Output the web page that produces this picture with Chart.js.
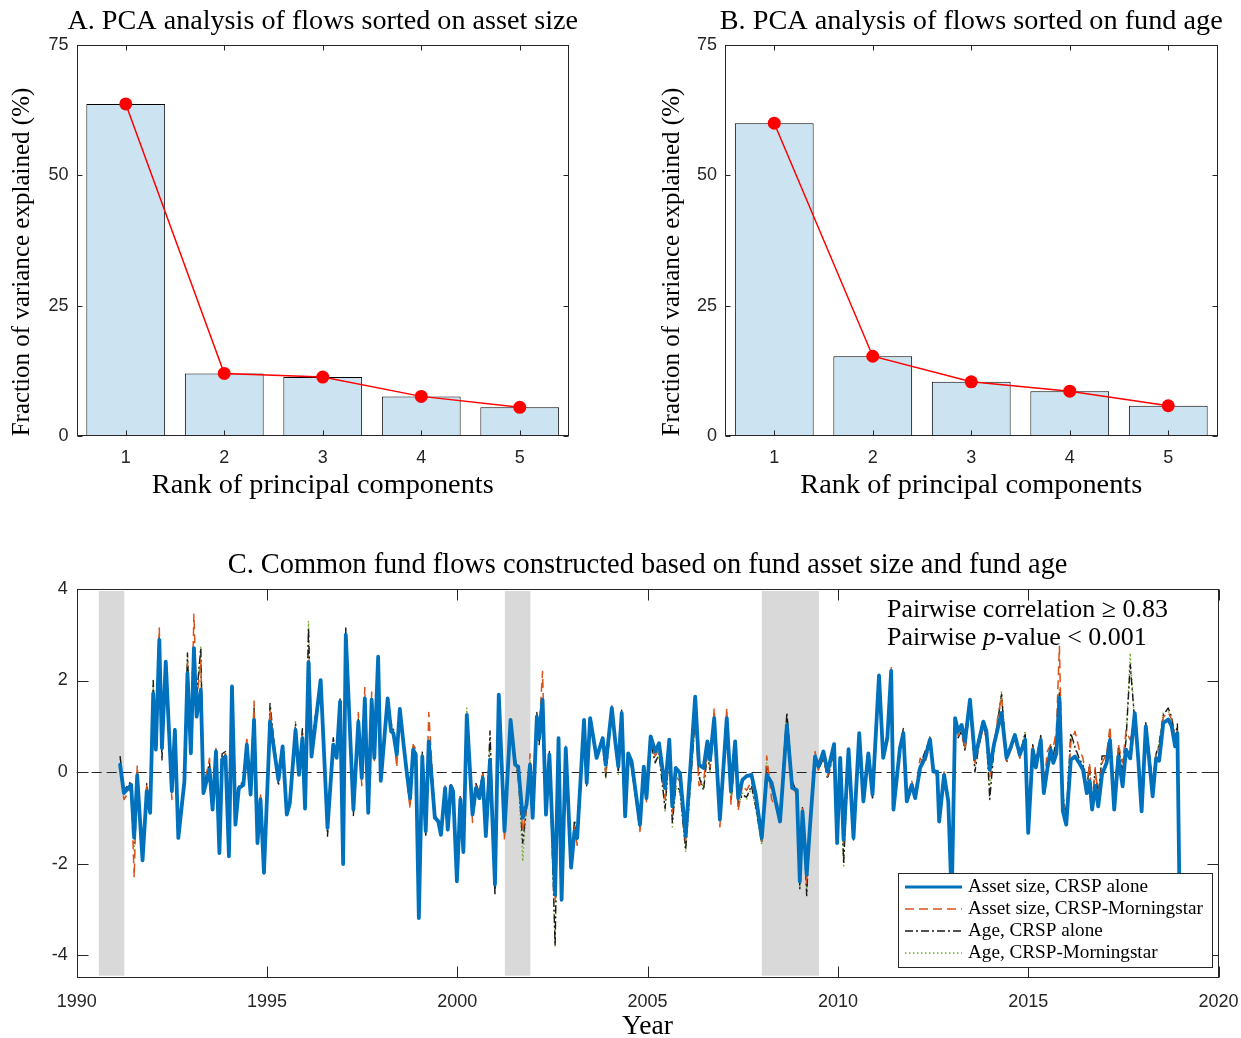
<!DOCTYPE html>
<html><head><meta charset="utf-8">
<script src="https://cdn.jsdelivr.net/npm/chart.js@4.4.1/dist/chart.umd.min.js"></script>
<style>
html,body{margin:0;padding:0;background:#fff;}
#wrap{position:relative;width:1241px;height:1038px;overflow:hidden;}
canvas{position:absolute;}
</style></head><body><div id="wrap">
<canvas id="cA" width="620" height="520" style="left:0;top:0"></canvas>
<canvas id="cB" width="621" height="520" style="left:620px;top:0"></canvas>
<canvas id="cC" width="1241" height="498" style="left:0;top:540px"></canvas>
</div>
<script>
// ---------------- data ----------------
const rankLabels = [1, 2, 3, 4, 5];
const pcaAssetSize = [63.7, 12.0, 11.3, 7.6, 5.5];
const pcaFundAge = [60.0, 15.3, 10.4, 8.6, 5.8];
const pcaYTicks = [0, 25, 50, 75];
const yearTicks = [1990, 1995, 2000, 2005, 2010, 2015, 2020];
const flowYTicks = [-4, -2, 0, 2, 4];
const recessionStart = [1990.58, 2001.25, 2008.0];
const recessionEnd = [1991.25, 2001.92, 2009.5];

const flowDates = [
1991.14,1991.24,1991.43,1991.51,1991.59,1991.73,1991.84,1991.93,1992.01,1992.08,1992.17,1992.24,1992.34,1992.50,1992.58,1992.67,1992.83,1992.91,
1993.00,1993.08,1993.15,1993.26,1993.33,1993.49,1993.57,1993.66,1993.75,1993.82,1993.91,1994.00,1994.08,1994.17,1994.26,1994.38,1994.47,1994.57,1994.66,1994.75,1994.83,1994.92,
1995.08,1995.30,1995.41,1995.52,1995.60,1995.75,1995.84,1995.93,1996.00,1996.09,1996.17,1996.41,1996.59,1996.74,1996.83,1996.92,
1997.00,1997.07,1997.27,1997.40,1997.49,1997.57,1997.66,1997.75,1997.82,1997.92,1997.99,1998.17,1998.26,1998.32,1998.41,1998.49,1998.58,1998.67,1998.76,1998.84,1998.91,
1998.99,1999.08,1999.17,1999.25,1999.41,1999.50,1999.57,1999.68,1999.75,1999.83,1999.89,1999.99,2000.08,2000.16,2000.25,2000.40,2000.49,2000.58,2000.67,2000.75,2000.86,
2000.99,2001.09,2001.24,2001.40,2001.52,2001.60,2001.72,2001.82,2001.91,2001.98,2002.09,2002.15,2002.24,2002.33,2002.42,2002.57,2002.66,2002.74,2002.85,2002.99,
2003.08,2003.15,2003.33,2003.40,2003.49,2003.66,2003.82,2003.90,2004.06,2004.15,2004.23,2004.32,2004.41,2004.49,2004.58,2004.80,2004.90,2004.97,
2005.08,2005.20,2005.30,2005.46,2005.57,2005.65,2005.74,2005.85,2006.00,2006.25,2006.35,2006.47,2006.57,2006.64,2006.75,2006.90,
2007.08,2007.19,2007.30,2007.38,2007.49,2007.60,2007.73,2007.84,2008.00,2008.13,2008.26,2008.48,2008.66,2008.80,2008.92,
2009.00,2009.07,2009.18,2009.27,2009.40,2009.49,2009.62,2009.73,2009.90,2009.98,2010.06,2010.15,2010.28,2010.41,2010.56,2010.67,2010.80,2010.91,
2011.08,2011.19,2011.30,2011.40,2011.46,2011.63,2011.72,2011.81,2011.94,2012.03,2012.16,2012.29,2012.42,2012.51,2012.61,2012.66,2012.79,2012.90,
2012.99,2013.08,2013.16,2013.25,2013.34,2013.47,2013.60,2013.70,2013.82,2013.90,2013.99,2014.10,2014.20,2014.30,2014.43,2014.53,2014.65,2014.78,2014.92,
2015.00,2015.12,2015.20,2015.33,2015.41,2015.50,2015.59,2015.66,2015.74,2015.82,2015.91,2016.00,2016.12,2016.23,2016.34,2016.44,2016.54,2016.61,2016.68,2016.76,2016.84,2016.94,
2017.06,2017.15,2017.26,2017.37,2017.48,2017.57,2017.68,2017.80,2017.89,2017.98,2018.09,2018.17,2018.27,2018.36,2018.44,2018.55,2018.68,2018.77,2018.86,2018.92,2018.98
];

const assetSizeCrsp = [
0.16,-0.46,-0.28,-1.44,-0.07,-1.93,-0.42,-0.89,1.72,0.49,2.89,0.52,2.41,-0.42,0.92,-1.44,-0.20,2.16,
0.41,2.71,1.21,1.80,-0.46,0.05,-0.82,0.45,-1.77,0.27,0.34,-1.84,1.87,-1.15,-0.35,-0.28,0.60,-0.49,1.14,-1.55,-0.60,-2.20,
1.10,-0.17,0.56,-0.93,-0.68,0.92,-0.06,0.74,-0.80,2.40,0.34,2.01,-1.22,0.60,0.31,1.54,
-2.01,3.00,-0.82,1.10,-0.13,1.61,-0.89,1.58,0.31,2.52,-0.19,1.61,0.89,0.85,0.38,1.38,0.67,0.01,-0.57,0.49,0.38,
-3.19,0.34,-1.29,0.67,-1.00,-1.08,-1.37,-0.35,-1.26,-0.31,-0.42,-2.39,-0.60,-1.75,1.25,-0.93,-0.35,-0.57,-0.13,-1.40,0.27,
-2.46,1.69,-1.29,1.14,0.16,0.12,-1.00,-0.71,0.16,-1.00,1.21,0.74,1.58,-0.93,0.38,-2.68,0.74,-2.79,0.52,-2.09,
-1.29,-1.44,1.14,-0.24,1.18,0.31,0.74,0.16,1.40,0.67,0.12,1.29,-0.97,0.41,0.23,-1.15,0.12,-0.57,
0.78,0.45,0.63,-0.35,0.71,-0.75,0.09,-0.02,-1.40,1.65,0.16,0.09,0.67,0.27,1.18,-1.04,
1.18,-0.42,0.67,-0.57,-0.17,-0.09,-0.06,-0.49,-1.44,-0.06,-0.24,-1.08,1.03,-0.35,-0.39,
-2.39,-0.86,-2.24,-1.15,0.34,0.12,0.45,0.01,0.61,-1.55,0.31,-1.48,0.50,-1.44,0.85,-0.64,0.41,-0.49,
2.11,0.31,0.75,2.21,-0.82,0.52,0.85,-0.64,-0.28,-0.57,0.09,0.31,0.71,0.01,0.01,-1.08,-0.06,-0.64,
-2.80,1.18,0.89,1.03,0.67,1.58,0.31,0.67,1.10,0.90,0.05,0.60,0.95,1.29,0.31,0.52,0.81,0.38,0.71,
-1.33,0.49,0.10,0.70,-0.46,0.05,0.49,0.20,0.40,1.62,-0.85,-1.15,0.27,0.34,0.20,0.05,-0.46,-0.20,-0.82,-0.30,-0.75,-0.05,
0.20,0.70,-0.82,0.34,-0.31,0.49,0.30,1.29,0.30,-0.86,1.00,0.34,-0.53,0.30,0.25,1.07,1.15,1.00,0.56,0.85,-3.00
];

const assetSizeCrspMs = [
0.10,-0.60,-0.35,-2.30,0.15,-1.85,-0.30,-0.80,1.65,0.55,3.15,0.60,2.30,-0.60,0.85,-1.30,-0.35,2.40,
0.60,3.45,1.50,2.45,-0.35,0.30,-0.70,0.55,-1.70,0.35,0.40,-1.75,1.75,-1.05,-0.40,-0.20,0.75,-0.45,1.55,-1.50,-0.50,-2.10,
1.35,-0.10,0.50,-0.85,-0.60,0.95,0.05,0.80,-0.70,2.50,0.60,1.90,-1.10,0.50,0.40,1.45,
-1.95,2.95,-0.75,1.30,-0.30,1.85,-0.80,1.75,0.25,2.45,-0.10,1.50,0.95,0.90,0.10,1.30,0.75,-0.15,-0.80,0.60,0.50,
-3.10,0.40,-1.20,1.30,-0.90,-1.00,-1.30,-0.30,-1.15,-0.25,-0.35,-2.30,-0.55,-1.60,1.20,-1.10,-0.30,-0.50,-0.05,-1.30,0.35,
-2.35,1.60,-1.50,1.05,0.25,0.00,-1.30,-0.80,0.40,-0.90,1.15,0.90,2.20,-0.80,0.30,-2.80,0.60,-2.70,0.60,-1.90,
-1.20,-1.60,1.05,-0.10,1.10,0.40,0.65,0.00,1.45,0.60,0.20,1.20,-0.85,0.30,0.10,-1.30,0.00,-0.65,
0.70,0.35,0.50,-0.60,0.60,-0.90,-0.10,-0.20,-1.55,1.30,-0.30,-0.20,0.50,0.10,1.40,-1.20,
1.40,-0.70,0.50,-0.85,-0.30,-0.40,-0.20,-0.60,-1.50,0.35,-0.60,-0.95,0.90,-0.30,-0.50,
-2.30,-0.80,-2.45,-1.00,0.45,0.05,0.35,-0.10,0.50,-1.30,0.20,-1.55,0.40,-1.30,0.75,-0.55,0.30,-0.40,
2.00,0.40,0.65,2.30,-0.70,0.45,0.75,-0.55,-0.20,-0.45,0.30,0.20,0.60,0.05,-0.10,-0.95,0.00,-0.60,
-2.60,1.00,0.80,0.85,0.50,1.45,0.20,0.60,0.95,0.75,-0.10,0.55,1.20,1.65,0.25,0.45,0.70,0.30,0.65,
-1.20,0.55,0.30,0.75,-0.35,0.45,0.60,0.55,0.90,2.75,-0.60,-0.95,0.65,0.89,0.50,0.30,-0.30,0.20,-0.70,0.10,-0.55,0.20,
0.40,1.00,-0.60,0.60,0.20,0.90,0.70,1.20,0.50,-0.70,1.05,0.50,-0.30,0.45,0.50,1.20,1.30,1.15,0.70,0.95,-2.80
];

const ageCrsp = [
0.35,-0.40,-0.20,-1.55,0.00,-1.80,-0.25,-0.75,2.00,0.70,2.95,0.25,2.25,-0.25,0.95,-1.35,-0.10,2.60,
0.55,2.65,1.65,2.70,-0.30,0.20,-0.75,0.50,-1.80,0.40,0.45,-1.80,1.80,-1.10,-0.30,-0.20,0.70,-0.40,1.40,-1.55,-0.55,-2.15,
1.50,-0.30,0.45,-0.80,-0.55,1.05,0.00,0.95,-0.65,3.15,0.70,1.95,-1.40,0.75,0.30,1.60,
-2.00,3.15,-0.95,1.15,-0.10,1.55,-0.85,1.50,0.35,2.45,-0.20,1.55,1.00,0.95,0.30,1.40,0.70,0.05,-0.70,0.55,0.45,
-3.05,0.45,-1.40,0.60,-0.95,-1.05,-1.30,-0.40,-1.20,-0.25,-0.50,-2.30,-0.50,-1.65,1.10,-0.80,-0.25,-0.45,0.00,-1.35,0.90,
-2.70,1.55,-1.20,1.00,0.30,-0.10,-1.55,-0.75,0.20,-0.95,1.30,0.60,1.45,-0.85,0.45,-3.80,0.70,-2.75,0.45,-2.00,
-1.05,-1.40,1.10,-0.30,1.15,0.35,0.80,-0.10,1.30,0.75,0.00,1.35,-0.90,0.35,0.05,-1.20,-0.05,-0.60,
0.65,0.20,0.40,-0.80,0.50,-1.10,-0.30,-0.40,-1.70,1.20,-0.10,-0.40,0.40,0.05,1.10,-0.95,
1.00,-0.60,0.40,-0.70,-0.50,-0.55,-0.30,-0.75,-1.55,0.10,-0.30,-0.90,1.30,-0.20,-0.45,
-2.55,-0.75,-2.70,-1.05,0.30,0.05,0.30,-0.15,0.45,-1.20,0.25,-2.00,0.35,-1.50,0.80,-0.70,0.35,-0.60,
2.05,0.35,0.85,2.15,-0.75,0.60,0.95,-0.50,-0.35,-0.50,0.15,0.45,0.75,0.10,-0.05,-1.00,-0.10,-0.70,
-2.70,1.05,0.75,0.90,0.45,1.50,0.00,0.55,1.00,0.80,-0.60,0.50,1.10,1.70,0.20,0.50,0.75,0.35,0.85,
-1.25,0.60,0.20,0.80,-0.40,0.20,0.55,0.35,0.75,1.75,-0.50,-0.95,0.85,0.55,0.30,0.15,-0.35,0.15,-0.65,0.05,-0.50,0.35,
0.35,0.80,-0.55,0.55,0.00,0.70,2.35,1.10,0.45,-0.60,1.10,0.45,-0.25,0.40,0.60,1.25,1.40,1.20,0.75,1.05,-2.85
];

const ageCrspMs = [
0.30,-0.45,-0.25,-1.75,-0.05,-1.85,-0.30,-0.80,1.95,0.60,2.90,0.40,2.35,-0.30,0.90,-1.40,-0.15,2.55,
0.50,2.60,1.60,2.75,-0.35,0.15,-0.80,0.45,-1.75,0.35,0.40,-1.85,1.85,-1.10,-0.35,-0.25,0.65,-0.45,1.50,-1.50,-0.55,-2.15,
1.40,-0.20,0.50,-0.85,-0.60,1.10,0.00,0.90,-0.70,3.30,0.65,2.00,-1.35,0.70,0.35,1.55,
-1.95,3.05,-0.90,1.20,-0.15,1.60,-0.85,1.55,0.30,2.50,-0.15,1.60,1.10,0.90,0.35,1.35,0.75,0.00,-0.75,0.50,0.40,
-3.05,0.40,-1.35,0.65,-0.95,-1.05,-1.35,-0.35,-1.25,-0.30,-0.45,-2.35,-0.55,-1.70,1.40,-0.85,-0.30,-0.50,-0.05,-1.40,0.70,
-2.60,1.60,-1.25,1.10,0.20,-0.05,-1.95,-0.70,0.25,-1.00,1.25,0.70,1.50,-0.90,0.40,-3.80,0.75,-2.70,0.50,-2.05,
-1.10,-1.45,1.10,-0.25,1.20,0.30,0.75,-0.15,1.35,0.70,-0.05,1.30,-0.95,0.40,0.10,-1.25,0.00,-0.55,
0.60,0.25,0.35,-0.85,0.45,-1.20,-0.35,-0.45,-1.75,1.10,-0.05,-0.35,0.45,0.00,1.05,-0.90,
0.95,-0.65,0.35,-0.75,-0.45,-0.60,-0.35,-0.80,-1.60,0.20,-0.35,-0.95,1.25,-0.25,-0.50,
-2.50,-0.80,-2.60,-1.10,0.35,0.10,0.35,-0.10,0.50,-1.25,0.30,-2.05,0.40,-1.45,0.85,-0.65,0.40,-0.55,
2.10,0.30,0.80,2.20,-0.80,0.55,0.90,-0.55,-0.30,-0.55,0.10,0.40,0.80,0.05,0.00,-1.05,-0.05,-0.65,
-2.65,1.00,0.80,0.95,0.50,1.60,0.10,0.60,1.05,0.80,-0.40,0.55,1.15,1.75,0.30,0.55,0.80,0.40,0.90,
-1.30,0.55,0.15,0.75,-0.45,0.15,0.60,0.30,0.70,1.80,-0.55,-1.00,0.80,0.50,0.25,0.10,-0.40,0.10,-0.70,0.00,-0.55,0.30,
0.30,0.75,-0.60,0.50,0.05,0.75,2.60,1.05,0.40,-0.65,1.05,0.40,-0.30,0.35,0.65,1.30,1.35,1.10,0.70,1.00,-2.85
];

const seriesNames = ['Asset size, CRSP alone', 'Asset size, CRSP-Morningstar', 'Age, CRSP alone', 'Age, CRSP-Morningstar'];

// ---------------- helpers ----------------
const SERIF = '"Liberation Serif", "DejaVu Serif", serif';
const SANS = '"Liberation Sans", Arial, sans-serif';
const TICK_COLOR = '#262626';
const TICK_SIZE = 18;

function fitSize(ctx, text, target, style) {
  ctx.font = (style ? style + ' ' : '') + '100px ' + SERIF;
  return 100 * target / ctx.measureText(text).width;
}
function drawFitted(ctx, text, cx, cy, target, rotate) {
  const s = fitSize(ctx, text, target);
  ctx.save();
  ctx.font = s + 'px ' + SERIF;
  ctx.fillStyle = '#000';
  ctx.textAlign = 'center';
  ctx.textBaseline = 'middle';
  ctx.translate(cx, cy);
  if (rotate) ctx.rotate(-Math.PI / 2);
  ctx.fillText(text, 0, 0);
  ctx.restore();
}
function noPad(s) { s.paddingLeft = 0; s.paddingRight = 0; s.paddingTop = 0; s.paddingBottom = 0; }

function frameTicksPlugin(len) {
  return {
    id: 'frameTicks',
    afterDatasetsDraw(chart) {
      const {ctx, chartArea: a, scales: {x, y}} = chart;
      ctx.save();
      ctx.strokeStyle = TICK_COLOR;
      ctx.lineWidth = 1;
      const L = Math.round(a.left) + 0.5, R = Math.round(a.right) - 0.5;
      const T = Math.round(a.top) + 0.5, B = Math.round(a.bottom) - 0.5;
      ctx.strokeRect(L, T, R - L, B - T);
      ctx.beginPath();
      x.ticks.forEach(t => {
        const px = Math.round(x.getPixelForValue(t.value)) + 0.5;
        ctx.moveTo(px, B); ctx.lineTo(px, B - len);
        ctx.moveTo(px, T); ctx.lineTo(px, T + len);
      });
      y.ticks.forEach(t => {
        const py = Math.round(y.getPixelForValue(t.value)) + 0.5;
        ctx.moveTo(L, py); ctx.lineTo(L + len, py);
        ctx.moveTo(R, py); ctx.lineTo(R - len, py);
      });
      ctx.stroke();
      ctx.restore();
    }
  };
}

function pcaChart(id, values, title, titleWidth, yAxisWidth, padRight, yLabelX) {
  const ctx = document.getElementById(id).getContext('2d');
  return new Chart(ctx, {
    data: {
      datasets: [
        {
          type: 'line',
          data: rankLabels.map((r, i) => ({x: r, y: values[i]})),
          borderColor: '#FF0000',
          backgroundColor: '#FF0000',
          borderWidth: 1.5,
          pointRadius: 6.5,
          pointBackgroundColor: '#FF0000',
          pointBorderColor: '#FF0000',
          pointBorderWidth: 0,
          order: 0
        },
        {
          type: 'bar',
          data: rankLabels.map((r, i) => ({x: r, y: values[i]})),
          backgroundColor: '#CCE4F1',
          borderColor: '#000000',
          borderWidth: 1,
          categoryPercentage: 0.8,
          barPercentage: 1.0,
          order: 1
        }
      ]
    },
    options: {
      responsive: false,
      animation: false,
      devicePixelRatio: 1,
      layout: {padding: {top: 45, left: 0, right: padRight, bottom: 24}},
      plugins: {legend: {display: false}, tooltip: {enabled: false}},
      scales: {
        x: {
          type: 'linear', min: 0.5, max: 5.5, offset: false,
          grid: {display: false, drawTicks: false},
          border: {display: false},
          afterBuildTicks: s => { s.ticks = rankLabels.map(v => ({value: v})); },
          afterFit: s => { s.height = 60; noPad(s); },
          ticks: {color: TICK_COLOR, font: {family: SANS, size: TICK_SIZE}, padding: 11, maxRotation: 0, callback: v => String(v)}
        },
        y: {
          type: 'linear', min: 0, max: 75,
          grid: {display: false, drawTicks: false},
          border: {display: false},
          afterBuildTicks: s => { s.ticks = pcaYTicks.map(v => ({value: v})); },
          afterFit: s => { s.width = yAxisWidth; noPad(s); },
          ticks: {color: TICK_COLOR, font: {family: SANS, size: TICK_SIZE}, padding: 8, callback: v => String(v)}
        }
      }
    },
    plugins: [frameTicksPlugin(5), {
      id: 'texts',
      afterDraw(chart) {
        const c = chart.ctx, a = chart.chartArea;
        const cx = (a.left + a.right) / 2;
        drawFitted(c, title, cx, 22, titleWidth);
        drawFitted(c, 'Rank of principal components', cx, 486, 342);
        drawFitted(c, 'Fraction of variance explained (%)', yLabelX, 262, 349, true);
      }
    }]
  });
}

pcaChart('cA', pcaAssetSize, 'A. PCA analysis of flows sorted on asset size', 511, 76.5, 51, 22);
pcaChart('cB', pcaFundAge, 'B. PCA analysis of flows sorted on fund age', 503, 105, 23.5, 52);

// ---------------- panel C ----------------
const flowColors = ['#0072BD', '#D95319', '#1A1A1A', '#77AC30'];
const flowDashes = [[], [9, 5], [8, 3, 2, 3], [1.5, 2.5]];
const flowWidths = [3.8, 1.5, 1.4, 1.4];
const flowSeries = [assetSizeCrsp, assetSizeCrspMs, ageCrsp, ageCrspMs];

const ctxC = document.getElementById('cC').getContext('2d');
new Chart(ctxC, {
  type: 'line',
  data: {
    datasets: flowSeries.map((vals, k) => ({
      label: seriesNames[k],
      data: flowDates.map((d, i) => ({x: d, y: vals[i]})),
      borderColor: flowColors[k],
      borderWidth: flowWidths[k],
      borderDash: flowDashes[k],
      borderJoinStyle: 'round',
      borderCapStyle: k === 0 ? 'round' : 'butt',
      pointRadius: 0,
      tension: 0,
      fill: false,
      order: k
    }))
  },
  options: {
    responsive: false,
    animation: false,
    devicePixelRatio: 1,
    layout: {padding: {top: 49, left: 0, right: 22.5, bottom: 10}},
    plugins: {legend: {display: false}, tooltip: {enabled: false}},
    scales: {
      x: {
        type: 'linear', min: 1990, max: 2020,
        grid: {display: false, drawTicks: false},
        border: {display: false},
        afterBuildTicks: s => { s.ticks = yearTicks.map(v => ({value: v})); },
        afterFit: s => { s.height = 50; noPad(s); },
        ticks: {color: TICK_COLOR, font: {family: SANS, size: TICK_SIZE}, padding: 13, maxRotation: 0, callback: v => String(v)}
      },
      y: {
        type: 'linear', min: -4.5, max: 4,
        grid: {display: false, drawTicks: false},
        border: {display: false},
        afterBuildTicks: s => { s.ticks = flowYTicks.map(v => ({value: v})); },
        afterFit: s => { s.width = 76.7; noPad(s); },
        ticks: {color: TICK_COLOR, font: {family: SANS, size: TICK_SIZE}, padding: 9, callback: v => String(v)}
      }
    }
  },
  plugins: [{
    id: 'shading',
    beforeDatasetsDraw(chart) {
      const {ctx, chartArea: a, scales: {x, y}} = chart;
      ctx.save();
      ctx.fillStyle = '#D9D9D9';
      const top = y.getPixelForValue(4) + 2, bot = y.getPixelForValue(-4.45);
      recessionStart.forEach((s, i) => {
        const x0 = x.getPixelForValue(s), x1 = x.getPixelForValue(recessionEnd[i]);
        ctx.fillRect(x0, top, x1 - x0, bot - top);
      });
      const y0 = Math.round(y.getPixelForValue(0)) + 0.5;
      ctx.strokeStyle = '#262626';
      ctx.lineWidth = 1;
      ctx.setLineDash([10, 5]);
      ctx.beginPath();
      ctx.moveTo(a.left, y0); ctx.lineTo(a.right, y0);
      ctx.stroke();
      ctx.restore();
    }
  }, frameTicksPlugin(11), {
    id: 'textsC',
    afterDraw(chart) {
      const c = chart.ctx, a = chart.chartArea;
      const cx = (a.left + a.right) / 2;
      drawFitted(c, 'C. Common fund flows constructed based on fund asset size and fund age', cx, 26, 840);
      drawFitted(c, 'Year', cx, 487, 51);
      // annotation
      const line1 = 'Pairwise correlation \u2265 0.83';
      const s = fitSize(c, line1, 281);
      c.save();
      c.fillStyle = '#000';
      c.textBaseline = 'middle';
      c.textAlign = 'left';
      c.font = s + 'px ' + SERIF;
      c.fillText(line1, 887, 70);
      let xx = 887;
      const p1 = 'Pairwise ', p2 = 'p', p3 = '-value < 0.001';
      c.fillText(p1, xx, 98); xx += c.measureText(p1).width;
      c.font = 'italic ' + s + 'px ' + SERIF;
      c.fillText(p2, xx, 98); xx += c.measureText(p2).width;
      c.font = s + 'px ' + SERIF;
      c.fillText(p3, xx, 98);
      c.restore();
      // legend
      const lx0 = 898.5, ly0 = 333.5, lx1 = 1212.5, ly1 = 427.5;
      c.save();
      c.fillStyle = '#FFFFFF';
      c.fillRect(lx0, ly0, lx1 - lx0, ly1 - ly0);
      c.strokeStyle = '#262626';
      c.lineWidth = 1;
      c.strokeRect(lx0, ly0, lx1 - lx0, ly1 - ly0);
      const ls = fitSize(c, seriesNames[1], 235);
      const rows = [347, 369, 391, 413];
      seriesNames.forEach((name, k) => {
        c.save();
        c.strokeStyle = flowColors[k];
        c.lineWidth = k === 0 ? 3 : flowWidths[k];
        c.setLineDash(flowDashes[k]);
        c.beginPath();
        c.moveTo(905, rows[k]); c.lineTo(962, rows[k]);
        c.stroke();
        c.restore();
        c.fillStyle = '#000';
        c.font = ls + 'px ' + SERIF;
        c.textBaseline = 'middle';
        c.textAlign = 'left';
        c.fillText(name, 968, rows[k]);
      });
      c.restore();
    }
  }]
});
</script>
</body></html>
